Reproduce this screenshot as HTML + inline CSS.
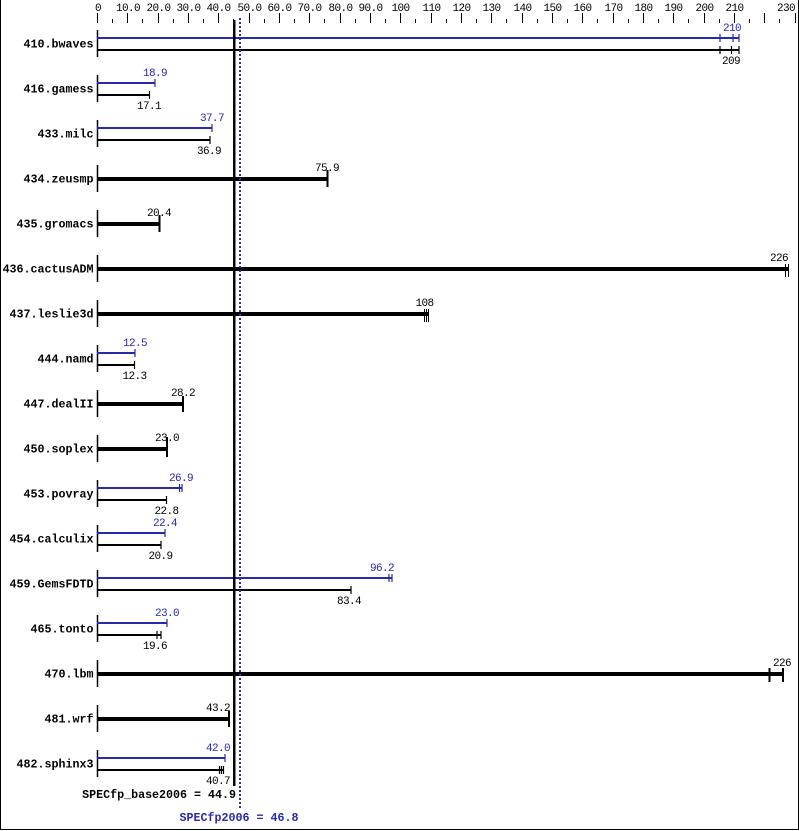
<!DOCTYPE html>
<html>
<head>
<meta charset="utf-8">
<style>
html,body{margin:0;padding:0;background:#fff;}
svg{display:block;}
text{font-family:"Liberation Mono","DejaVu Sans Mono",monospace;}
.ax{font-size:11px;letter-spacing:-0.6px;fill:#000;}
.lb{font-size:11.67px;font-weight:bold;fill:#000;}
.v{font-size:11px;letter-spacing:-0.6px;fill:#000;}
.vb{font-size:11px;letter-spacing:-0.6px;fill:#2828b0;}
</style>
</head>
<body>
<svg width="799" height="831" viewBox="0 0 799 831" xmlns="http://www.w3.org/2000/svg">
<rect x="0" y="0" width="799" height="831" fill="#fff"/>
<path d="M0.5 0V829.5H798.5V0" fill="none" stroke="#000" stroke-width="1"/>

<path stroke="#000" stroke-width="1" fill="none" d="
M97.5 13V23 M127.5 13V23 M158.5 13V23 M188.5 13V23 M218.5 13V23 M249.5 13V23 M279.5 13V23 M309.5 13V23 M340.5 13V23 M370.5 13V23 M400.5 13V23 M431.5 13V23 M461.5 13V23 M491.5 13V23 M522.5 13V23 M552.5 13V23 M582.5 13V23 M613.5 13V23 M643.5 13V23 M673.5 13V23 M704.5 13V23 M734.5 13V23 M764.5 13V23 M795.5 13V23
M112.5 19V23 M142.5 19V23 M173.5 19V23 M203.5 19V23 M233.5 19V23 M264.5 19V23 M294.5 19V23 M324.5 19V23 M355.5 19V23 M385.5 19V23 M415.5 19V23 M446.5 19V23 M476.5 19V23 M506.5 19V23 M537.5 19V23 M567.5 19V23 M597.5 19V23 M628.5 19V23 M658.5 19V23 M688.5 19V23 M719.5 19V23 M749.5 19V23 M779.5 19V23"/>
<g class="ax" text-anchor="middle">
<text x="98" y="11">0</text>
<text x="128" y="11">10.0</text>
<text x="158.5" y="11">20.0</text>
<text x="188.5" y="11">30.0</text>
<text x="218.5" y="11">40.0</text>
<text x="249.5" y="11">50.0</text>
<text x="279.5" y="11">60.0</text>
<text x="309.5" y="11">70.0</text>
<text x="340.5" y="11">80.0</text>
<text x="370.5" y="11">90.0</text>
<text x="400.5" y="11">100</text>
<text x="431.5" y="11">110</text>
<text x="461.5" y="11">120</text>
<text x="491.5" y="11">130</text>
<text x="522.5" y="11">140</text>
<text x="552.5" y="11">150</text>
<text x="582.5" y="11">160</text>
<text x="613.5" y="11">170</text>
<text x="643.5" y="11">180</text>
<text x="673.5" y="11">190</text>
<text x="704.5" y="11">200</text>
<text x="734.5" y="11">210</text>
<text x="786" y="11">230</text>
</g>

<g class="lb" text-anchor="end">
<text x="93.5" y="47.5">410.bwaves</text>
<text x="93.5" y="92.5">416.gamess</text>
<text x="93.5" y="137.5">433.milc</text>
<text x="93.5" y="182.5">434.zeusmp</text>
<text x="93.5" y="227.5">435.gromacs</text>
<text x="93.5" y="272.5">436.cactusADM</text>
<text x="93.5" y="317.5">437.leslie3d</text>
<text x="93.5" y="362.5">444.namd</text>
<text x="93.5" y="407.5">447.dealII</text>
<text x="93.5" y="452.5">450.soplex</text>
<text x="93.5" y="497.5">453.povray</text>
<text x="93.5" y="542.5">454.calculix</text>
<text x="93.5" y="587.5">459.GemsFDTD</text>
<text x="93.5" y="632.5">465.tonto</text>
<text x="93.5" y="677.5">470.lbm</text>
<text x="93.5" y="722.5">481.wrf</text>
<text x="93.5" y="767.5">482.sphinx3</text>
</g>

<path stroke="#000" stroke-width="1.5" fill="none" d="
M97.5 30V57 M97.5 75V102 M97.5 120V147 M97.5 165V192 M97.5 210V237 M97.5 255V282 M97.5 300V327 M97.5 345V372 M97.5 390V417 M97.5 435V462 M97.5 480V507 M97.5 525V552 M97.5 570V597 M97.5 615V642 M97.5 660V687 M97.5 705V732 M97.5 750V777"/>

<g fill="#2828b0">
<rect x="97" y="37" width="642" height="2"/>
<rect x="97" y="82" width="58" height="2"/>
<rect x="97" y="127" width="115.5" height="2"/>
<rect x="97" y="352" width="38.5" height="2"/>
<rect x="97" y="487" width="85" height="2"/>
<rect x="97" y="532" width="68.5" height="2"/>
<rect x="97" y="577" width="295" height="2"/>
<rect x="97" y="622" width="70.5" height="2"/>
<rect x="97" y="757" width="128.5" height="2"/>
</g>
<path stroke="#2828b0" stroke-width="1.2" fill="none" d="
M720 34V42 M733 34V42 M739 34V42
M155 79V87
M212 124V132
M135 349V357
M179.5 484V492 M182 484V492
M165 529V537
M389 574V582 M392 574V582
M167 619V627
M225 754V762"/>
<g class="vb" text-anchor="middle">
<text x="732" y="31">210</text>
<text x="155" y="76">18.9</text>
<text x="212" y="121">37.7</text>
<text x="135" y="346">12.5</text>
<text x="181" y="481">26.9</text>
<text x="165" y="526">22.4</text>
<text x="382" y="571">96.2</text>
<text x="167" y="616">23.0</text>
<text x="218" y="751">42.0</text>
</g>

<g fill="#000">
<rect x="97" y="49" width="642" height="2"/>
<rect x="97" y="94" width="52.5" height="2"/>
<rect x="97" y="139" width="113" height="2"/>
<rect x="97" y="364" width="38" height="2"/>
<rect x="97" y="499" width="70" height="2"/>
<rect x="97" y="544" width="64" height="2"/>
<rect x="97" y="589" width="254" height="2"/>
<rect x="97" y="634" width="64" height="2"/>
<rect x="97" y="769" width="126" height="2"/>
</g>
<path stroke="#000" stroke-width="1.2" fill="none" d="
M720 46V54 M731.5 46V54 M739 46V54
M149.5 91V99
M210 136V144
M134.5 361V369
M166.5 496V504
M161 541V549
M351 586V594
M157 631V639 M161 631V639
M219.5 766V774 M221.5 766V774 M223.5 766V774"/>
<g class="v" text-anchor="middle">
<text x="731" y="64">209</text>
<text x="149" y="109">17.1</text>
<text x="209" y="154">36.9</text>
<text x="134.5" y="379">12.3</text>
<text x="166.5" y="514">22.8</text>
<text x="160.5" y="559">20.9</text>
<text x="349" y="604">83.4</text>
<text x="155" y="649">19.6</text>
<text x="218" y="784">40.7</text>
</g>

<g fill="#000">
<rect x="97" y="177" width="230.5" height="4"/>
<rect x="97" y="222" width="62.5" height="4"/>
<rect x="97" y="267" width="692" height="4"/>
<rect x="97" y="312" width="331.5" height="4"/>
<rect x="97" y="402" width="86" height="4"/>
<rect x="97" y="447" width="70" height="4"/>
<rect x="97" y="672" width="686.5" height="4"/>
<rect x="97" y="717" width="132" height="4"/>
</g>
<path stroke="#000" stroke-width="2" fill="none" d="
M327.5 170V187
M159.5 215V232
M183 396V412
M167 437V457
M769.5 668V682 M783 668V682
M229 711V727"/>
<path stroke="#000" stroke-width="1" fill="none" d="
M785.5 264V277 M788.5 264V277
M424.5 309V322 M426.5 309V322 M428.5 309V322"/>
<g class="v" text-anchor="middle">
<text x="327" y="171">75.9</text>
<text x="159" y="216">20.4</text>
<text x="779" y="261">226</text>
<text x="424.5" y="306">108</text>
<text x="183" y="396">28.2</text>
<text x="167" y="441">23.0</text>
<text x="782" y="666">226</text>
<text x="218" y="711">43.2</text>
</g>

<rect x="233" y="20" width="2.5" height="766" fill="#000"/>
<line x1="240" y1="18" x2="240" y2="808" stroke="#2828b0" stroke-width="2" stroke-dasharray="2,2"/>

<text class="lb" x="236" y="798" text-anchor="end">SPECfp_base2006 = 44.9</text>
<text class="lb" x="239" y="821" text-anchor="middle" style="fill:#2828b0">SPECfp2006 = 46.8</text>
</svg>
</body>
</html>
